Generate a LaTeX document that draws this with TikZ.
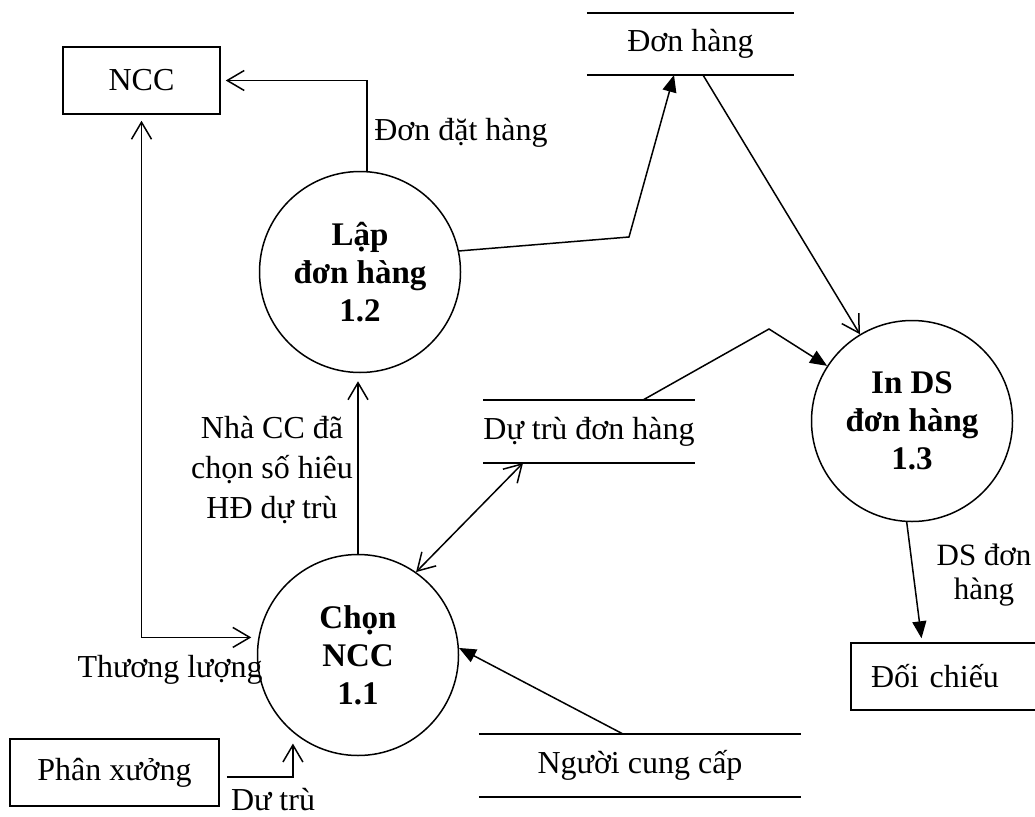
\documentclass[tikz,border=0pt]{standalone}
\usepackage{fontspec}
\setmainfont{Liberation Serif}
\usetikzlibrary{arrows.meta}

\begin{document}
\begin{tikzpicture}[
    x=1pt, y=-1pt,
    every node/.style={font=\fontsize{32}{38}\selectfont},
    process/.style={draw, circle, line width=1.5pt, minimum size=201pt, inner sep=0pt, align=center, font=\fontsize{33}{38}\selectfont\bfseries},
    entity/.style={draw, line width=1.5pt, minimum height=67pt, inner sep=0pt},
    store/.style={minimum height=62pt, inner sep=0pt},
    storeline/.style={line width=1.8pt},
    lbl/.style={align=center, inner sep=0pt},
    flow/.style={line width=1.5pt, -{Straight Barb[length=17pt,width=20pt]}},
    flowf/.style={line width=1.5pt, -{Triangle[length=17pt,width=14pt]}},
    biflow/.style={line width=1.5pt, {Straight Barb[length=17pt,width=20pt]}-{Straight Barb[length=17pt,width=20pt]}},
  ]
    \useasboundingbox (0, 0) rectangle (1035, 816);
    \clip (0, 0) rectangle (1035, 816);

    % Tác nhân ngoài
    \node[entity, minimum width=157pt] (ncc) at (141.5, 80.5) {NCC};
    \node[entity, minimum width=209pt] (px) at (114.5, 772.5) {Phân xưởng};
    \node[entity, minimum width=190pt, text width=150pt, align=left] (doi) at (946, 676.5) {Đối chiếu};

    % Tiến trình
    \node[process] (lap) at (360, 272) {Lập\\đơn hàng\\1.2};
    \node[process] (chon) at (358, 655) {Chọn\\NCC\\1.1};
    \node[process] (inds) at (912, 421) {In DS\\đơn hàng\\1.3};

    % Kho dữ liệu
    \node[store, minimum width=207pt] (dh) at (690.5, 44) {Đơn hàng};
    \draw[storeline] (dh.north west) -- (dh.north east) (dh.south west) -- (dh.south east);
    \node[store, minimum width=206pt, minimum height=63pt] (dt) at (589, 431.5) {Dự trù đơn hàng};
    \draw[storeline] (dt.north west) -- (dt.north east) (dt.south west) -- (dt.south east);
    \node[store, minimum width=322pt, minimum height=63pt] (ncu) at (640, 765.5) {Người cung cấp};
    \draw[storeline] (ncu.north west) -- (ncu.north east) (ncu.south west) -- (ncu.south east);

    % Điểm gấp / đầu nối
    \coordinate (k1) at (629, 237);
    \coordinate (dhin) at (674, 75);
    \coordinate (dhout) at (703, 75);
    \coordinate (dtout) at (643, 400);
    \coordinate (k2) at (769, 329);
    \coordinate (dtin) at (523, 463);
    \coordinate (ncuout) at (623, 734);

    % Luồng dữ liệu
    \draw[flow, shorten >=5pt] (lap.86.5) |- (ncc.east);
    \node[lbl] (ldh) at (461, 133) {Đơn đặt hàng};

    \draw[flowf] (lap.12) -- (k1) -- (dhin);
    \draw[flow] (dhout) -- (inds.121.5);
    \draw[flowf] (dtout) -- (k2) -- (inds.147);

    \draw[flowf, shorten >=4pt] (inds.-93) -- ([xshift=-24pt]doi.north);
    \node[lbl, font=\fontsize{31}{34}\selectfont] (lds) at (984, 575) {DS đơn\\hàng};

    \draw[flow, shorten >=8pt] (chon.north) -- (chon.north |- lap.south);
    \node[lbl, font=\fontsize{32}{40}\selectfont] (lnha) at (272, 470) {Nhà CC đã\\chọn số hiêu\\HĐ dự trù};

    \draw[biflow, shorten <=6pt, shorten >=7pt] (ncc.south) |- (chon.170);
    \node[lbl] (ltl) at (170, 670) {Thương lượng};

    \draw[flow, shorten <=7pt, shorten >=11pt] ([yshift=-4.5pt]px.east) -| (chon.-130);
    \node[lbl] (ldt) at (273, 800) {Dư trù};

    \draw[flowf] (ncuout) -- (chon.4);
    \draw[biflow] (chon.55) -- (dtin);
  \end{tikzpicture}
\end{document}
